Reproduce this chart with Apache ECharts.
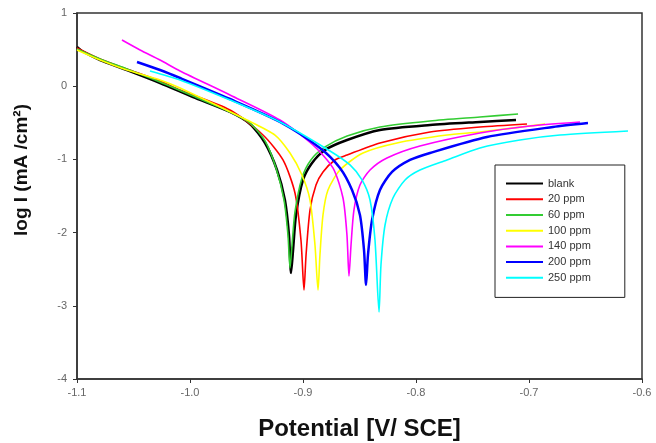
<!DOCTYPE html>
<html>
<head>
<meta charset="utf-8">
<script src="https://cdn.jsdelivr.net/npm/echarts@6/dist/echarts.min.js"></script>
<style>html,body{margin:0;padding:0;background:#fff}#c{width:656px;height:443px}</style>
</head>
<body>
<div id="c"></div>
<script>
const seriesNames = ['blank', '20 ppm', '60 ppm', '100 ppm', '140 ppm', '200 ppm', '250 ppm'];
const xTicks = [-1.1, -1.0, -0.9, -0.8, -0.7, -0.6];
const yTicks = [-4, -3, -2, -1, 0, 1];

const blank = [[-1.100,0.536],[-1.0956,0.481],[-1.0796,0.358],[-1.0558,0.221],[-1.0265,0.044],[-0.9973,-0.148],[-0.9646,-0.352],[-0.9469,-0.516],[-0.9336,-0.776],[-0.923,-1.145],[-0.916,-1.555],[-0.9124,-2.033],[-0.9106,-2.552],[-0.9088,-2.24],[-0.9062,-1.76],[-0.900,-1.281],[-0.892,-1.049],[-0.8805,-0.871],[-0.861,-0.735],[-0.8319,-0.598],[-0.7876,-0.530],[-0.7434,-0.489],[-0.7115,-0.462]];
const ppm20 = [[-1.100,0.522],[-1.0796,0.372],[-1.0558,0.235],[-1.0265,0.071],[-1.0088,-0.052],[-0.9646,-0.325],[-0.9354,-0.667],[-0.9177,-1.008],[-0.9071,-1.459],[-0.9018,-2.101],[-0.8991,-2.784],[-0.8973,-2.306],[-0.8938,-1.692],[-0.8885,-1.350],[-0.8823,-1.172],[-0.8717,-1.008],[-0.861,-0.94],[-0.8319,-0.775],[-0.7876,-0.625],[-0.7434,-0.557],[-0.7018,-0.516]];
const ppm60 = [[-1.100,0.508],[-1.0796,0.372],[-1.0558,0.235],[-1.0265,0.057],[-0.9973,-0.134],[-0.9646,-0.352],[-0.9469,-0.503],[-0.9336,-0.748],[-0.9239,-1.117],[-0.9168,-1.555],[-0.9133,-2.033],[-0.9115,-2.483],[-0.9097,-2.169],[-0.9071,-1.718],[-0.9009,-1.253],[-0.893,-1.007],[-0.8805,-0.830],[-0.861,-0.680],[-0.8319,-0.557],[-0.7876,-0.475],[-0.7434,-0.421],[-0.7097,-0.380]];
const ppm100 = [[-1.100,0.495],[-1.0796,0.358],[-1.0558,0.221],[-1.0265,0.085],[-1.0088,-0.025],[-0.9496,-0.462],[-0.9248,-0.667],[-0.9115,-0.913],[-0.9009,-1.213],[-0.8938,-1.555],[-0.8894,-2.169],[-0.8867,-2.784],[-0.8850,-2.306],[-0.8823,-1.759],[-0.8779,-1.418],[-0.8673,-1.145],[-0.8469,-0.913],[-0.8168,-0.775],[-0.7726,-0.667],[-0.7434,-0.626],[-0.6858,-0.516]];
const ppm140 = [[-1.0602,0.631],[-1.0442,0.495],[-1.0265,0.358],[-1.0088,0.208],[-0.9646,-0.120],[-0.9204,-0.462],[-0.8912,-0.803],[-0.8735,-1.117],[-0.8646,-1.527],[-0.8611,-2.033],[-0.8593,-2.593],[-0.8575,-2.169],[-0.8549,-1.691],[-0.8496,-1.350],[-0.8407,-1.145],[-0.8257,-0.981],[-0.7965,-0.817],[-0.7434,-0.639],[-0.6991,-0.544],[-0.6549,-0.489]];
const ppm200 = [[-1.0469,0.331],[-1.0265,0.221],[-1.0088,0.112],[-0.9646,-0.175],[-0.9204,-0.489],[-0.8850,-0.844],[-0.8673,-1.117],[-0.8566,-1.418],[-0.8496,-1.759],[-0.8460,-2.238],[-0.8442,-2.716],[-0.8425,-2.306],[-0.8389,-1.828],[-0.8319,-1.418],[-0.8212,-1.172],[-0.8053,-1.008],[-0.7876,-0.912],[-0.7372,-0.694],[-0.6788,-0.557],[-0.6478,-0.503]];
const ppm250 = [[-1.0354,0.208],[-1.0088,0.085],[-0.9646,-0.189],[-0.9204,-0.489],[-0.8761,-0.885],[-0.8584,-1.076],[-0.8478,-1.281],[-0.8407,-1.555],[-0.8363,-2.101],[-0.8327,-3.085],[-0.8310,-2.443],[-0.8274,-1.896],[-0.8204,-1.527],[-0.8097,-1.281],[-0.7965,-1.145],[-0.7726,-1.008],[-0.7434,-0.844],[-0.7080,-0.735],[-0.6726,-0.667],[-0.6124,-0.612]];

const seriesData = [blank, ppm20, ppm60, ppm100, ppm140, ppm200, ppm250];
const colors = ['#000000', '#ff0000', '#33cc33', '#ffff00', '#ff00ff', '#0000ff', '#00ffff'];
const widths = [2.5, 1.6, 1.6, 1.6, 1.6, 2.5, 1.6];

const chart = echarts.init(document.getElementById('c'));
const font = 'Liberation Sans, Arial, sans-serif';
chart.setOption({
  animation: false,
  backgroundColor: '#fff',
  grid: { left: 77, right: 14, top: 13, bottom: 64, outerBoundsMode: 'none', containLabel: false, show: true, borderColor: '#333', borderWidth: 1.5 },
  xAxis: {
    type: 'value', min: xTicks[0], max: xTicks[xTicks.length - 1], interval: 0.1,
    axisLine: { show: true, onZero: false, lineStyle: { color: '#333', width: 1.5 } },
    axisTick: { show: true, length: 4, lineStyle: { color: '#333' } },
    splitLine: { show: false },
    axisLabel: { color: '#666', fontSize: 11, fontFamily: font, margin: 8, formatter: v => v.toFixed(1) },
    name: 'Potential [V/ SCE]', nameLocation: 'middle', nameGap: 38,
    nameTextStyle: { fontSize: 24, fontWeight: 'bold', color: '#111', fontFamily: font }
  },
  yAxis: {
    type: 'value', min: yTicks[0], max: yTicks[yTicks.length - 1], interval: 1,
    axisLine: { show: true, onZero: false, lineStyle: { color: '#333', width: 1.5 } },
    axisTick: { show: true, length: 4, lineStyle: { color: '#333' } },
    splitLine: { show: false },
    axisLabel: { color: '#666', fontSize: 11, fontFamily: font, margin: 10 },
    name: 'log I (mA /cm²)', nameLocation: 'middle', nameGap: 46, nameRotate: 90,
    nameTextStyle: { fontSize: 19, fontWeight: 'bold', color: '#111', fontFamily: font, padding: [0, 0, 0, 52] }
  },
  legend: {
    orient: 'vertical', left: 495, top: 165,
    backgroundColor: '#fff', borderColor: '#222', borderWidth: 1,
    padding: [13, 34, 14, 10], itemWidth: 37, itemHeight: 14, itemGap: 4.5,
    itemStyle: { opacity: 0 },
    textStyle: { color: '#333', fontSize: 11, fontFamily: font },
    data: seriesNames
  },
  series: seriesNames.map((n, i) => ({
    name: n, type: 'line', data: seriesData[i], showSymbol: false, symbol: 'none',
    smooth: 0.25, color: colors[i],
    lineStyle: { color: colors[i], width: widths[i] }
  }))
});
</script>
</body>
</html>
